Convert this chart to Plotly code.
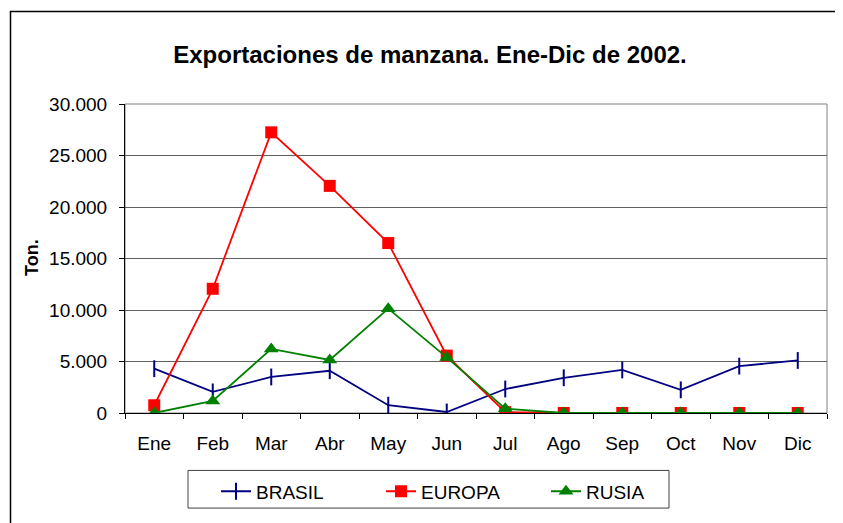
import plotly.graph_objects as go

months = ["Ene", "Feb", "Mar", "Abr", "May", "Jun", "Jul", "Ago", "Sep", "Oct", "Nov", "Dic"]
brasil = [4300, 2050, 3500, 4100, 760, 100, 2330, 3420, 4180, 2250, 4550, 5100]
europa = [750, 12060, 27250, 22050, 16500, 5570, 80, 0, 0, 0, 0, 0]
rusia = [0, 1170, 6220, 5150, 10130, 5400, 420, 0, 0, 0, 0, 0]
y_ticks = [0, 5000, 10000, 15000, 20000, 25000, 30000]

# page body has an 8px margin; work in page coordinates and shift
OFF = 8
W, H = 843 - OFF, 523 - OFF
L, R, T, B = 125, 827, 104, 416
pw, ph = R - L, B - T

def px(x):
    return (x - L) / pw

def py(y):
    return (B - y) / ph

fig = go.Figure()
fig.add_trace(go.Scatter(x=months, y=brasil, name="BRASIL", mode="lines+markers",
                         line=dict(color="#000080", width=1.8),
                         marker=dict(symbol="line-ns", size=12, color="#000080",
                                     line=dict(color="#000080", width=2))))
fig.add_trace(go.Scatter(x=months, y=europa, name="EUROPA", mode="lines+markers",
                         line=dict(color="#FF0000", width=1.8),
                         marker=dict(symbol="square", size=12, color="#FF0000")))
fig.add_trace(go.Scatter(x=months, y=rusia, name="RUSIA", mode="lines+markers",
                         line=dict(color="#008000", width=1.8),
                         marker=dict(symbol="triangle-up", size=13, color="#008000")))

fig.update_layout(
    width=W, height=H,
    margin=dict(l=L - OFF, r=843 - R, t=T - OFF, b=523 - B),
    paper_bgcolor="white", plot_bgcolor="white",
    separators=",.",
    font=dict(family="Liberation Sans, Arial, sans-serif", size=19, color="black"),
    title=dict(text="<b>Exportaciones de manzana. Ene-Dic de 2002.</b>",
               x=(430 - OFF) / W, y=1 - (55 - OFF) / H, xanchor="center", yanchor="middle",
               font=dict(size=24, color="black")),
    showlegend=True,
    legend=dict(orientation="h", x=px(216), y=py(476), xanchor="left", yanchor="top",
                borderwidth=0, bgcolor="rgba(0,0,0,0)",
                entrywidth=120, entrywidthmode="pixels",
                font=dict(size=19)),
    xaxis=dict(type="category", showgrid=False, showline=True, linecolor="black", linewidth=1,
               ticks="outside", tickson="boundaries", ticklen=5, tickcolor="black",
               ticklabelstandoff=13, range=[-0.5, 11.5]),
    yaxis=dict(range=[0, 30000], tickvals=y_ticks, tickformat=",d",
               showgrid=True, gridcolor="#606060", gridwidth=1,
               showline=True, linecolor="black", linewidth=1,
               ticks="outside", ticklen=5, tickcolor="black", ticklabelstandoff=8,
               zeroline=False),
    annotations=[dict(text="<b>Ton.</b>", x=px(32), y=py(259.5), xref="paper", yref="paper",
                      textangle=-90, showarrow=False, xanchor="center", yanchor="middle",
                      font=dict(size=18))],
    shapes=[
        dict(type="rect", xref="paper", yref="paper", x0=0, y0=0, x1=1, y1=1,
             line=dict(color="#808080", width=1), layer="below"),
        dict(type="rect", xref="paper", yref="paper",
             x0=px(188), y0=py(512), x1=px(669), y1=py(474),
             line=dict(color="#404040", width=1)),
        dict(type="rect", xref="paper", yref="paper",
             x0=px(10.5), y0=py(540), x1=px(860), y1=py(10.5),
             line=dict(color="black", width=1.5)),
    ],
)

fig.write_html("out.html")
